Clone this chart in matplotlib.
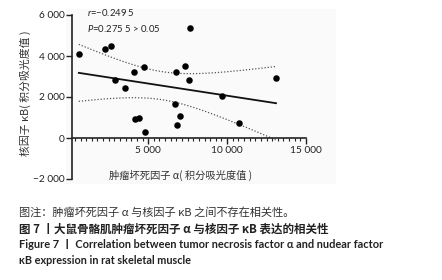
import numpy as np
import matplotlib
matplotlib.use("Agg")
import matplotlib.pyplot as plt
from matplotlib.ticker import MultipleLocator, FixedLocator, FuncFormatter
from matplotlib.patches import Rectangle

plt.rcParams['font.family'] = ['Lato', 'Noto Sans CJK SC', 'DejaVu Sans']
plt.rcParams['mathtext.fontset'] = 'custom'
plt.rcParams['mathtext.it'] = 'Lato:italic'
plt.rcParams['mathtext.rm'] = 'Lato'

# values (integrated optical density)
tnf_alpha = [600, 2260, 2660, 2910, 3545, 4070, 4730, 4180, 4410, 4810,
             6730, 7300, 7580, 7640, 6690, 7030, 6820, 9700, 10740, 13100]
nf_kb = [4110, 4340, 4500, 2810, 2440, 3220, 3450, 910, 975, 290,
         3220, 3530, 2830, 5370, 1660, 1060, 634, 2050, 750, 2910]
x_ticks = [5000, 10000, 15000]
y_ticks = [-2000, 0, 2000, 4000, 6000]
stat_r = "=\u22120.249 5"
stat_p = "=0.275 5 > 0.05"

caption = "图注：肿瘤坏死因子 α 与核因子 κB 之间不存在相关性。"
title_cn = "图 7 丨大鼠骨骼肌肿瘤坏死因子 α 与核因子 κB 表达的相关性"
title_en1 = "Figure 7 丨 Correlation between tumor necrosis factor α and nudear factor"
title_en2 = "κB expression in rat skeletal muscle"

x = np.array(tnf_alpha, dtype=float)
y = np.array(nf_kb, dtype=float)

# linear fit with 95% confidence band of the mean
slope, intercept = np.polyfit(x, y, 1)
n = len(x)
resid = y - (slope * x + intercept)
s = np.sqrt(np.sum(resid ** 2) / (n - 2))
sxx = np.sum((x - x.mean()) ** 2)
t_crit = 2.101  # t(0.975, 18)
xs = np.linspace(x.min(), x.max(), 100)
ys = slope * xs + intercept
half = t_crit * s * np.sqrt(1 / n + (xs - x.mean()) ** 2 / sxx)

fig = plt.figure(figsize=(4.42, 2.80), dpi=100)
fig.patches.append(Rectangle((66 / 442, 1 - 184 / 280), 270 / 442, 175 / 280,
                             transform=fig.transFigure, facecolor='#fafafa',
                             edgecolor='none', zorder=-5))
ax = fig.add_axes([72 / 442, 1 - 179 / 280, 234 / 442, 164 / 280])
ax.patch.set_alpha(0)

ax.plot(xs, ys, color='#111111', lw=1.3, zorder=3)
ax.plot(xs, ys + half, color='#555555', lw=0.9, ls=(0, (1, 1.5)), zorder=2)
ax.plot(xs, ys - half, color='#555555', lw=0.9, ls=(0, (1, 1.5)), zorder=2)
ax.scatter(x, y, s=22, color='black', zorder=4, linewidths=0)

ax.set_xlim(170, 15000)
ax.set_ylim(-2000, 6000)
for side in ['top', 'right']:
    ax.spines[side].set_visible(False)
ax.spines['bottom'].set_position(('data', 0))
ax.spines['bottom'].set_linewidth(1.2)
ax.spines['left'].set_linewidth(1.2)
ax.spines['bottom'].set_color('#222222')
ax.spines['left'].set_color('#222222')

fmt = FuncFormatter(lambda v, p: f"{int(v):,}".replace(",", " ").replace("-", "\u2212"))
ax.xaxis.set_major_locator(FixedLocator(x_ticks))
ax.xaxis.set_minor_locator(MultipleLocator(5000 / 14))
ax.yaxis.set_major_locator(FixedLocator(y_ticks))
ax.xaxis.set_major_formatter(fmt)
ax.yaxis.set_major_formatter(fmt)
ax.tick_params(axis='x', which='major', length=4, width=1, labelsize=7.3, pad=2, colors='#222222')
ax.tick_params(axis='x', which='minor', length=2.2, width=0.8, colors='#222222')
ax.tick_params(axis='y', which='major', length=4, width=1, labelsize=7.3, pad=1.5, colors='#222222')

cjk = ['Noto Sans CJK SC', 'DejaVu Sans']
fig.text(181 / 442, 1 - 175 / 280, "肿瘤坏死因子 α( 积分吸光度值 )", ha='center', va='center',
         fontsize=7.4, color='#333333', family=cjk)
fig.text(25 / 442, 1 - 93 / 280, "核因子 κB( 积分吸光度值 )", ha='center', va='center',
         rotation=90, fontsize=7.8, color='#333333', family=cjk)

fig.text(87 / 442, 1 - 13 / 280, "$r$" + stat_r, ha='left', va='center', fontsize=6.8, color='#222222')
fig.text(87 / 442, 1 - 29 / 280, "$P$" + stat_p, ha='left', va='center', fontsize=6.8, color='#222222')

fig.text(19 / 442, 1 - 212.5 / 280, caption, ha='left', va='center', fontsize=8.05,
         color='#333333', family=cjk)
fig.text(19 / 442, 1 - 229 / 280, title_cn, ha='left', va='center', fontsize=8.3,
         color='#222222', family=cjk, fontweight='bold')
fig.text(19 / 442, 1 - 245 / 280, title_en1, ha='left', va='center', fontsize=7.9,
         color='#222222', family=['Lato', 'Noto Sans CJK SC'], fontweight='bold')
fig.text(19 / 442, 1 - 261 / 280, title_en2, ha='left', va='center', fontsize=7.8,
         color='#222222', family=['Lato', 'Noto Sans CJK SC'], fontweight='bold')

fig.savefig("out.png", dpi=100)
